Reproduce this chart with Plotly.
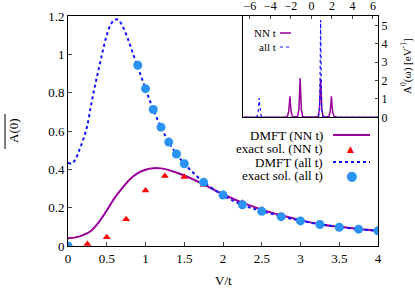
import plotly.graph_objects as go

# ---- main panel data ----
V_dmft_nn = [0, 0.1, 0.2, 0.3, 0.4, 0.5, 0.6, 0.7, 0.8, 0.9, 1.0, 1.1, 1.2, 1.3, 1.4, 1.5,
             1.75, 2.0, 2.25, 2.5, 2.75, 3.0, 3.25, 3.5, 3.75, 4.0]
A_dmft_nn = [0.04, 0.045, 0.058, 0.08, 0.125, 0.185, 0.25, 0.302, 0.348, 0.38, 0.398, 0.406,
             0.405, 0.396, 0.383, 0.368, 0.322, 0.27, 0.226, 0.19, 0.16, 0.135, 0.114, 0.1,
             0.089, 0.079]

V_exact_nn = [0, 0.25, 0.5, 0.75, 1.0, 1.25, 1.5, 1.75, 2.0, 2.25, 2.5, 2.75, 3.0, 3.25, 3.5, 3.75, 4.0]
A_exact_nn = [0.0, 0.01, 0.046, 0.14, 0.289, 0.365, 0.36, 0.318, 0.266, 0.226, 0.19, 0.159,
              0.135, 0.113, 0.1, 0.089, 0.079]

V_dmft_all = [0, 0.05, 0.1, 0.15, 0.2, 0.25, 0.3, 0.35, 0.4, 0.45, 0.5, 0.55, 0.6, 0.65, 0.7,
              0.75, 0.8, 0.85, 0.9, 1.0, 1.1, 1.2, 1.3, 1.4, 1.5, 1.75, 2.0, 2.25, 2.5, 2.75,
              3.0, 3.25, 3.5, 3.75, 4.0]
A_dmft_all = [0.435, 0.43, 0.455, 0.505, 0.56, 0.63, 0.74, 0.84, 0.93, 1.02, 1.1, 1.155, 1.18,
              1.18, 1.15, 1.105, 1.05, 0.99, 0.935, 0.82, 0.712, 0.62, 0.542, 0.48, 0.43, 0.333,
              0.265, 0.215, 0.182, 0.155, 0.132, 0.113, 0.099, 0.088, 0.079]

V_exact_all = [0, 0.9, 1.0, 1.1, 1.2, 1.3, 1.4, 1.5, 1.75, 2.0, 2.25, 2.5, 2.75, 3.0, 3.25,
               3.5, 3.75, 4.0]
A_exact_all = [0.0, 0.943, 0.821, 0.712, 0.62, 0.542, 0.48, 0.429, 0.332, 0.266, 0.215, 0.181,
               0.153, 0.131, 0.112, 0.098, 0.088, 0.079]

# ---- inset data ----
w_nn = [-6.6, -2.6, -2.35, -2.22, -2.15, -2.1, -2.05, -1.98, -1.85, -1.6, -1.35, -1.22, -1.15,
        -1.1, -1.05, -0.98, -0.85, -0.5, 0.5, 0.65, 0.78, 0.85, 0.9, 0.95, 1.02, 1.15, 1.45,
        1.7, 1.83, 1.9, 1.95, 2.0, 2.07, 2.2, 2.6, 6.5]
S_nn = [0, 0, 0.05, 0.3, 0.75, 1.15, 0.75, 0.3, 0.05, 0.02, 0.05, 0.4, 1.4, 2.12, 1.4, 0.4,
        0.05, 0.01, 0.01, 0.05, 0.4, 1.4, 2.1, 1.4, 0.4, 0.05, 0.02, 0.05, 0.3, 0.75, 1.15,
        0.75, 0.3, 0.05, 0, 0]
w_all = [-6.6, -5.5, -5.3, -5.2, -5.15, -5.1, -5.05, -5.0, -4.9, -4.7, 0.5, 0.7, 0.8, 0.85,
         0.9, 0.95, 1.0, 1.1, 1.3, 6.5]
S_all = [0, 0, 0.05, 0.3, 0.7, 1.05, 0.7, 0.3, 0.05, 0, 0, 0.05, 0.5, 2.5, 5.3, 2.5, 0.5,
         0.05, 0, 0]

main_ticks = [0, 0.5, 1, 1.5, 2, 2.5, 3, 3.5, 4]
main_yticks = [0, 0.2, 0.4, 0.6, 0.8, 1, 1.2]
inset_xticks = [-6, -4, -2, 0, 2, 4, 6]
inset_yticks = [0, 1, 2, 3, 4, 5]

legend_labels = ["DMFT (NN t)", "exact sol. (NN t)", "DMFT (all t)", "exact sol. (all t)"]

PURPLE = "#990099"
BLUE = "#1010ff"
RED = "#ff0000"
CIRC = "#2a93f5"
FONT = "Liberation Serif"

fig = go.Figure()
fig.add_trace(go.Scatter(x=V_dmft_nn, y=A_dmft_nn, mode="lines", line=dict(color=PURPLE, width=2, shape="spline"),
                         xaxis="x", yaxis="y"))
fig.add_trace(go.Scatter(x=V_exact_nn, y=A_exact_nn, mode="markers",
                         marker=dict(symbol="triangle-up", color=RED, size=7), xaxis="x", yaxis="y"))
fig.add_trace(go.Scatter(x=V_dmft_all, y=A_dmft_all, mode="lines", line=dict(color=BLUE, width=2, dash="dot", shape="spline"),
                         xaxis="x", yaxis="y"))
fig.add_trace(go.Scatter(x=V_exact_all, y=A_exact_all, mode="markers",
                         marker=dict(symbol="circle", color=CIRC, size=9), xaxis="x", yaxis="y"))

fig.add_trace(go.Scatter(x=w_nn, y=S_nn, mode="lines", line=dict(color=PURPLE, width=1.5),
                         xaxis="x2", yaxis="y2"))
fig.add_trace(go.Scatter(x=w_all, y=S_all, mode="lines", line=dict(color=BLUE, width=1.2, dash="dot"),
                         xaxis="x2", yaxis="y2"))

L, R, T, B = 68, 37, 16, 45
W, H = 415, 291
PW, PH = W - L - R, H - T - B

def px(x):
    return (x - L) / PW

def py(y):
    return (H - B - y) / PH

common = dict(showgrid=False, zeroline=False, showline=True, linecolor="black", mirror=True,
              automargin=False)

fig.update_layout(
    width=W, height=H, margin=dict(l=L, r=R, t=T, b=B, autoexpand=False),
    paper_bgcolor="white", plot_bgcolor="white", showlegend=False,
    font=dict(family=FONT, size=13, color="black"),
    xaxis=dict(domain=[0, 1], range=[0, 4], tickvals=main_ticks, ticktext=[f"{t:g}" for t in main_ticks],
               ticks="inside", ticklen=4, anchor="y", **common),
    yaxis=dict(domain=[0, 1], range=[0, 1.2], tickvals=main_yticks, ticktext=[f"{t:g}" for t in main_yticks],
               ticks="inside", ticklen=4, anchor="x", **common),
    xaxis2=dict(domain=[px(243.3), 1], range=[-6.65, 6.5], tickvals=inset_xticks, side="top",
                ticks="inside", ticklen=3, anchor="y2", tickfont=dict(size=12), **common),
    yaxis2=dict(domain=[py(117.3), 1], range=[0, 5.52], tickvals=inset_yticks, side="right",
                ticks="inside", ticklen=3, anchor="x2", tickfont=dict(size=12), **common),
)

def note(text, x, y, anchor="center", size=13, color="black", family=FONT, angle=0):
    return dict(text=text, x=px(x), y=py(y), xref="paper", yref="paper", showarrow=False,
                xanchor=anchor, yanchor="middle", textangle=angle, borderpad=0,
                font=dict(size=size, color=color, family=family))

ann = []
# axis titles of main panel
ann.append(note("A(0)", 13, 131, angle=-90))
ann.append(note("V/t", 223, 280))
# inset y title
ann.append(note("A<sup>0</sup>(ω) [eV<sup>-1</sup>]", 406, 66, size=11, angle=-90))
shapes = [dict(type="line", xref="paper", yref="paper", x0=px(5), x1=px(5), y0=py(114), y1=py(149),
               line=dict(color="black", width=1))]

# main legend
rows = [135, 148.5, 162, 175.5]
for lab, yy in zip(legend_labels, rows):
    ann.append(note(lab, 324, yy, anchor="right"))
shapes.append(dict(type="line", xref="paper", yref="paper", x0=px(333), x1=px(370), y0=py(rows[0]), y1=py(rows[0]),
                   line=dict(color=PURPLE, width=2)))
shapes.append(dict(type="line", xref="paper", yref="paper", x0=px(333), x1=px(370), y0=py(rows[2]), y1=py(rows[2]),
                   line=dict(color=BLUE, width=2, dash="dot")))
ann.append(note("▲", 350, rows[1], size=9, color=RED, family="DejaVu Sans"))
ann.append(note("●", 351.5, rows[3], size=13, color=CIRC, family="DejaVu Sans"))

# inset legend
ann.append(note("NN t", 277, 33, anchor="right", size=11))
ann.append(note("all t", 277, 47, anchor="right", size=11))
shapes.append(dict(type="line", xref="paper", yref="paper", x0=px(280), x1=px(291), y0=py(33), y1=py(33),
                   line=dict(color=PURPLE, width=1.5)))
shapes.append(dict(type="line", xref="paper", yref="paper", x0=px(280), x1=px(291), y0=py(47), y1=py(47),
                   line=dict(color=BLUE, width=1.2, dash="dot")))

fig.update_layout(annotations=ann, shapes=shapes)
fig.write_html("out.html", config={"displayModeBar": False},
               post_script="document.body.style.margin='0px';document.body.style.overflow='hidden';")
